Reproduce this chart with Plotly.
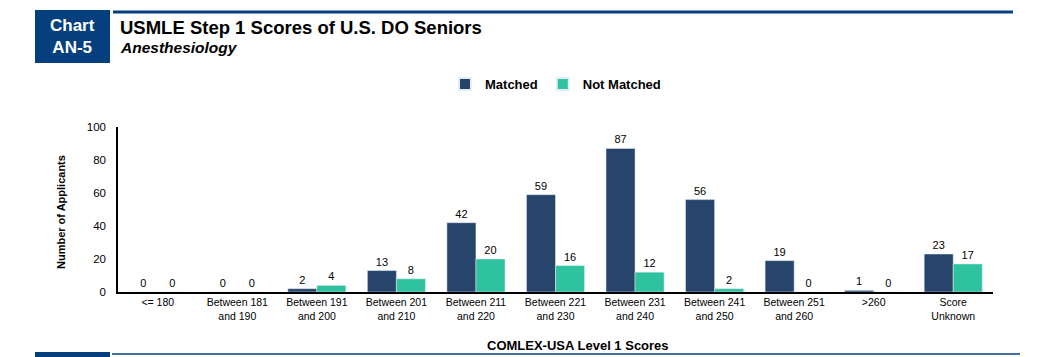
import plotly.graph_objects as go

categories = ["<= 180", "Between 181<br>and 190", "Between 191<br>and 200", "Between 201<br>and 210",
              "Between 211<br>and 220", "Between 221<br>and 230", "Between 231<br>and 240",
              "Between 241<br>and 250", "Between 251<br>and 260", ">260", "Score<br>Unknown"]
matched = [0, 0, 2, 13, 42, 59, 87, 56, 19, 1, 23]
not_matched = [0, 0, 4, 8, 20, 16, 12, 2, 0, 0, 17]

W, H = 1044, 357
L, R, T, B = 118, 993, 127, 292
def px(x): return (x - L) / (R - L)
def py(y): return (B - y) / (B - T)

FONT = "Liberation Sans, Arial, sans-serif"
NAVY = "#27456B"
TEAL = "#2EC29E"
HDR = "#063F7E"

fig = go.Figure()
fig.add_trace(go.Bar(name="<b>Matched</b>", x=categories, y=matched, marker_color=NAVY,
                     text=matched, textposition="outside", cliponaxis=False,
                     textfont=dict(size=11, color="#000", family=FONT)))
fig.add_trace(go.Bar(name="<b>Not Matched</b>", x=categories, y=not_matched, marker_color=TEAL,
                     text=not_matched, textposition="outside", cliponaxis=False,
                     textfont=dict(size=11, color="#000", family=FONT)))

shapes = [
    dict(type="rect", xref="paper", yref="paper", x0=px(35), x1=px(110), y0=py(63), y1=py(10),
         fillcolor=HDR, line_width=0),
    dict(type="line", xref="paper", yref="paper", x0=px(113), x1=px(1013), y0=py(12), y1=py(12),
         line=dict(color=HDR, width=3)),
    dict(type="line", xref="paper", yref="paper", x0=px(112), x1=px(1020), y0=py(354), y1=py(354),
         line=dict(color=HDR, width=1.5)),
    dict(type="rect", xref="paper", yref="paper", x0=px(35), x1=px(110), y0=py(358), y1=py(352),
         fillcolor=HDR, line_width=0),
]
annotations = [
    dict(text="<b>Chart<br>AN-5</b>", xref="paper", yref="paper", x=px(72.5), y=py(36.5),
         xanchor="center", yanchor="middle",
         showarrow=False, font=dict(size=17, color="white", family=FONT), align="center"),
    dict(text="<b>USMLE Step 1 Scores of U.S. DO Seniors</b>", xref="paper", yref="paper",
         x=px(118), y=py(27), xanchor="left", yanchor="middle", showarrow=False,
         font=dict(size=18.5, color="#000", family=FONT)),
    dict(text="<b><i>Anesthesiology</i></b>", xref="paper", yref="paper",
         x=px(118), y=py(47), xanchor="left", yanchor="middle", showarrow=False,
         font=dict(size=15.5, color="#000", family=FONT)),
    dict(text="<b>COMLEX-USA Level 1 Scores</b>", xref="paper", yref="paper",
         x=px(578), y=py(345), xanchor="center", yanchor="middle", showarrow=False,
         font=dict(size=13, color="#000", family=FONT)),
    dict(text="<b>Number of Applicants</b>", xref="paper", yref="paper",
         x=px(61), y=py(212), xanchor="center", yanchor="middle", showarrow=False, textangle=-90,
         font=dict(size=11, color="#000", family=FONT)),
]

fig.update_layout(
    width=W, height=H,
    margin=dict(l=L, r=W - R, t=T, b=H - B, autoexpand=False),
    paper_bgcolor="white", plot_bgcolor="white",
    barmode="group", bargap=0.27, bargroupgap=0,
    font=dict(family=FONT, size=10, color="#000"),
    showlegend=True,
    legend=dict(orientation="h", x=0.5, xanchor="center", y=py(84), yanchor="middle",
                font=dict(size=13, family=FONT, color="#000"), itemsizing="constant",
                bgcolor="rgba(0,0,0,0)"),
    shapes=shapes, annotations=annotations,
)
fig.update_xaxes(showline=True, linecolor="#000", linewidth=1.5, ticks="", showgrid=False,
                 tickfont=dict(size=10.5, family=FONT, color="#000"))
fig.update_yaxes(range=[0, 100], dtick=20, showline=True, linecolor="#000", linewidth=1.5,
                 ticks="", showgrid=False, zeroline=False, ticklabelstandoff=8,
                 tickfont=dict(size=11.5, family=FONT, color="#000"))

fig.write_html("out.html", config={"displayModeBar": False},
               post_script="document.body.style.margin='0';")
